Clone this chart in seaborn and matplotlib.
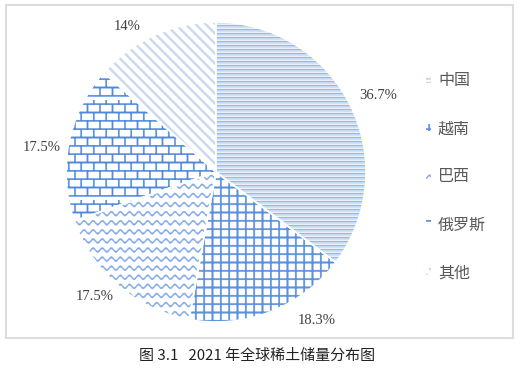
import warnings
warnings.filterwarnings("ignore")
import numpy as np
import matplotlib
matplotlib.use("Agg")
import matplotlib.pyplot as plt
from matplotlib import hatch as mhatch
from matplotlib.path import Path
from matplotlib.patches import Patch, Rectangle
import seaborn as sns

# ---------------- data ----------------
countries = ["中国", "越南", "巴西", "俄罗斯", "其他"]
shares = [36.7, 18.3, 17.5, 17.5, 14]
pct_labels = ["36.7%", "18.3%", "17.5%", "17.5%", "14%"]
caption = "图 3.1   2021 年全球稀土储量分布图"

# ---------------- custom hatch patterns (tile = 100 px at dpi 100) ----------------
PX = 0.01


def rect(x0, y0, x1, y1):
    return [(x0, y0), (x1, y0), (x1, y1), (x0, y1)]


class PolyHatch(mhatch.HatchPatternBase):
    char = "?"

    def __init__(self, hatch, density):
        self.polys = self.build() if (hatch and self.char in hatch) else []
        self.num_vertices = sum(len(p) + 1 for p in self.polys)

    def build(self):
        return []

    def set_vertices_and_codes(self, vertices, codes):
        i = 0
        for p in self.polys:
            k = len(p)
            vertices[i:i + k] = p
            vertices[i + k] = p[0]
            codes[i] = Path.MOVETO
            codes[i + 1:i + k] = Path.LINETO
            codes[i + k] = Path.CLOSEPOLY
            i += k + 1


class StripeLight(PolyHatch):
    char = "h"

    def build(self):
        out = []
        for r in range(25):
            y0 = r * 4 * PX + 0.4 * PX
            out.append(rect(-0.01, y0, 1.01, y0 + 1.6 * PX))
        return out


class StripeLine(PolyHatch):
    char = "k"

    def build(self):
        out = []
        for r in range(25):
            y0 = r * 4 * PX + 2.3 * PX
            out.append(rect(-0.01, y0, 1.01, y0 + 0.7 * PX))
        return out


class Grid(PolyHatch):
    char = "g"

    def build(self):
        out = []
        n = 12
        for i in range(n):
            p = (i + 0.5) / n
            out.append(rect(p - 0.7 * PX, -0.01, p + 0.7 * PX, 1.01))
            out.append(rect(-0.01, p - 0.7 * PX, 1.01, p + 0.7 * PX))
        return out


class Wave(PolyHatch):
    char = "w"

    def build(self):
        out = []
        n = 11
        per = 1.0 / n
        xs = np.arange(-2, 103, 0.5) * PX
        for r in range(n):
            c = (r + 0.5) / n
            yc = c + 1.8 * PX * np.sin(2 * np.pi * xs / per)
            t = 0.75 * PX
            pts = list(zip(xs, yc - t)) + list(zip(xs[::-1], (yc + t)[::-1]))
            out.append(pts)
        return out


class Brick(PolyHatch):
    char = "b"

    def build(self):
        out = []
        n = 12
        for r in range(n):
            y = (r + 0.5) / n
            out.append(rect(-0.01, y - 0.65 * PX, 1.01, y + 0.65 * PX))
            off = 0.5 * (r % 2)
            for j in range(-1, 9):
                x = (j + off) / 8
                out.append(rect(x - 0.6 * PX, y, x + 0.6 * PX, y + 1.0 / n))
        return out


class Diag(PolyHatch):
    char = "d"

    def build(self):
        out = []
        w = 2.8 * PX
        x0, x1 = -0.05, 1.05
        for k in range(-3, 24):
            c = k * 0.1
            out.append([(x0, -x0 + c), (x1, -x1 + c), (x1, -x1 + c + w), (x0, -x0 + c + w)])
        return out


mhatch._hatch_types.extend([StripeLight, StripeLine, Grid, Wave, Brick, Diag])

hatches = ["h", "g", "w", "b", "d"]
hatch_colors = ["#c6d8f1", "#5a90dc", "#80a8e6", "#5089da", "#c8d9f1"]
china_line_color = "#8eb2e8"

# ---------------- figure ----------------
sns.set_theme(style="white")
plt.rcParams["font.family"] = ["Noto Sans CJK SC", "DejaVu Sans"]
plt.rcParams["hatch.linewidth"] = 0.3

fig = plt.figure(figsize=(5.24, 3.75), dpi=100)
ax = fig.add_axes([66 / 524, 53 / 375, 300 / 524, 300 / 375])

wedges, _ = ax.pie(shares, startangle=90, counterclock=False, radius=1,
                   colors=["white"] * len(shares), wedgeprops=dict(linewidth=0))
for w, h, c in zip(wedges, hatches, hatch_colors):
    w.set_hatch(h)
    w.set_edgecolor(c)
    w.set_linewidth(0)

# second tone of the China stripes
wedges2, _ = ax.pie(shares, startangle=90, counterclock=False, radius=1,
                    colors=["none"] * len(shares), wedgeprops=dict(linewidth=0))
for i, w in enumerate(wedges2):
    if i == 0:
        w.set_hatch("k")
        w.set_edgecolor(china_line_color)
        w.set_linewidth(0)
    else:
        w.set_visible(False)

# white separators
ax.pie(shares, startangle=90, counterclock=False, radius=1,
       wedgeprops=dict(fill=False, edgecolor="white", linewidth=1.2))

ax.set_xlim(-1, 1)
ax.set_ylim(-1, 1)
ax.set_aspect("equal")
ax.axis("off")

label_pos = [(1.08, 0.51), (0.67, -0.99), (-0.81, -0.83), (-1.16, 0.16), (-0.59, 0.97)]
for (x, y), s in zip(label_pos, pct_labels):
    ax.text(x, y, s, ha="center", va="center", fontsize=10.5,
            family=["Liberation Serif"], color="#404040")

handles = [Patch(facecolor="white", edgecolor=c, hatch=h, linewidth=0)
           for h, c in zip(hatches, hatch_colors)]
fig.legend(handles, countries, loc="upper left",
           bbox_to_anchor=(426 / 524, 1 - 72 / 375), frameon=False,
           handlelength=0.3, handleheight=0.3, handletextpad=0.45,
           labelspacing=1.95, borderpad=0, borderaxespad=0,
           prop={"family": ["Noto Sans CJK SC"], "size": 11.5},
           labelcolor="#595959")

fig.text(257 / 524, 1 - 356 / 375, caption, ha="center", va="center",
         fontsize=10.8, color="#222222", family=["Noto Sans CJK SC", "DejaVu Sans"])

fig.patches.append(Rectangle((6 / 524, 1 - 338 / 375), (513 - 6) / 524, (338 - 5) / 375,
                             transform=fig.transFigure, fill=False,
                             edgecolor="#dcdcdc", linewidth=1.5))

fig.savefig("out.png", dpi=100)
